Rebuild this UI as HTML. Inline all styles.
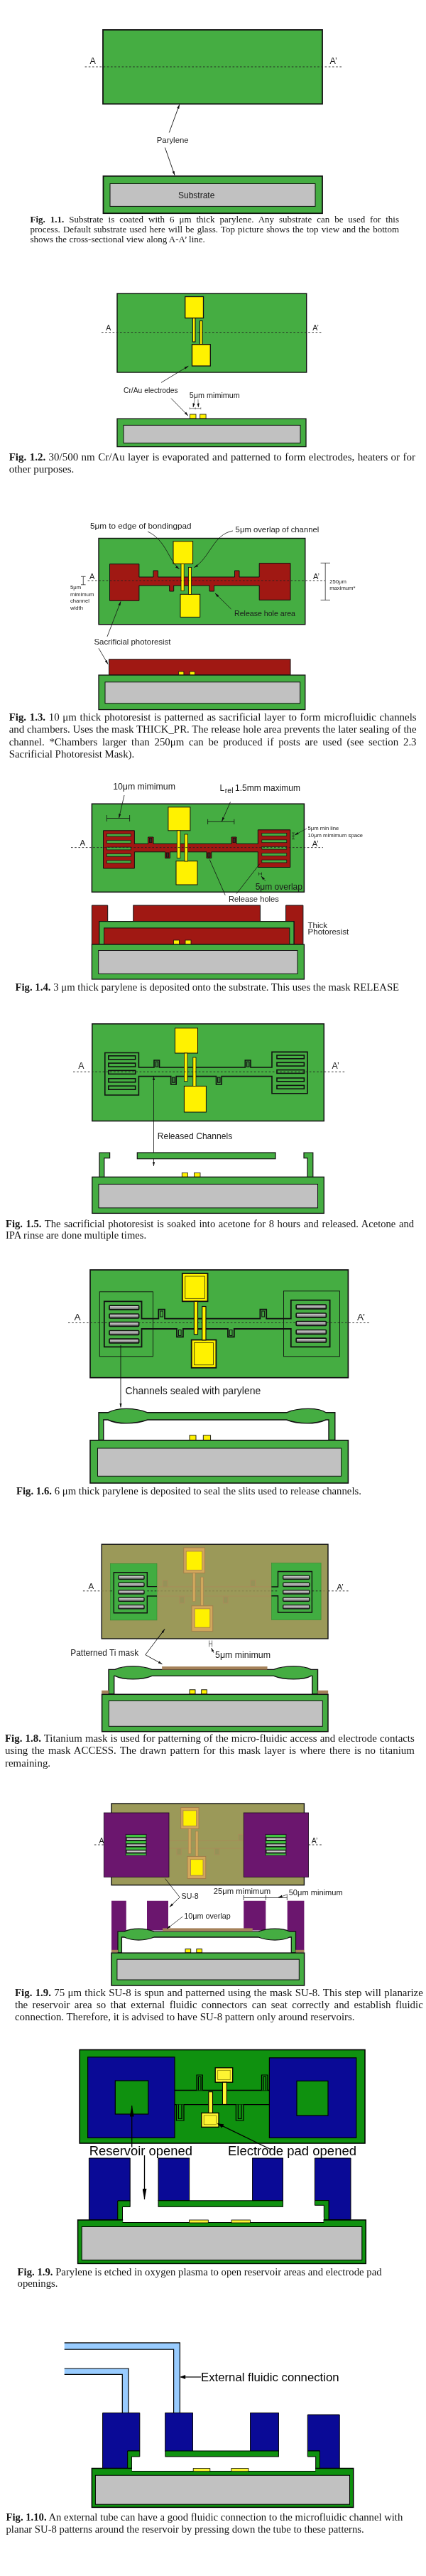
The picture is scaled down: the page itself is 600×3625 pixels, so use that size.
<!DOCTYPE html>
<html><head><meta charset="utf-8"><title>Process flow</title>
<style>
html,body{margin:0;padding:0;background:#fff}
body{width:600px;height:3625px;position:relative;overflow:hidden;font-family:"Liberation Serif",serif}
svg{position:absolute;left:0;top:0}
svg text{filter:grayscale(1)}
#caps{filter:grayscale(1);position:absolute;left:0;top:0;width:600px;height:3625px}
.cap{position:absolute;font-family:"Liberation Serif",serif;color:#141414;white-space:nowrap;text-align:justify;overflow:visible}
</style></head><body>
<svg width="600" height="3625" viewBox="0 0 600 3625">
<defs>
<marker id="ah" viewBox="0 0 10 10" refX="9.5" refY="5" markerWidth="6" markerHeight="6" markerUnits="userSpaceOnUse" orient="auto"><path d="M0 2.3L10 5L0 7.7z" fill="#111"/></marker>
<marker id="ahs" viewBox="0 0 10 10" refX="0.5" refY="5" markerWidth="6" markerHeight="6" markerUnits="userSpaceOnUse" orient="auto"><path d="M10 2.3L0 5L10 7.7z" fill="#111"/></marker>
<marker id="ahb" viewBox="0 0 10 10" refX="9" refY="5" markerWidth="13" markerHeight="7.5" markerUnits="userSpaceOnUse" orient="auto"><path d="M0 1L10 5L0 9z" fill="#000"/></marker>
<marker id="ahl" viewBox="0 0 16 6" refX="15.5" refY="3" markerWidth="16" markerHeight="6" markerUnits="userSpaceOnUse" orient="auto"><path d="M0 0L16 3L0 6z" fill="#000"/></marker>
<marker id="ahm" viewBox="0 0 9 6" refX="8.5" refY="3" markerWidth="9" markerHeight="6" markerUnits="userSpaceOnUse" orient="auto"><path d="M0 0L9 3L0 6z" fill="#000"/></marker>
<linearGradient id="met" x1="0" y1="0" x2="0" y2="1"><stop offset="0" stop-color="#d4d4d4"/><stop offset="0.4" stop-color="#b4b4b4"/><stop offset="1" stop-color="#5e5e5e"/></linearGradient>
</defs>
<rect x="145.0" y="42.0" width="309.0" height="104.3" fill="#45ad42" stroke="#111" stroke-width="1.8" />
<line x1="119.6" y1="94.0" x2="482.0" y2="94.0" stroke="#222" stroke-width="0.9" stroke-dasharray="2.6,2.6"/>
<text x="126.5" y="89.5" font-size="12.5" text-anchor="start" font-family="Liberation Sans" fill="#1a1a1a" >A</text>
<text x="464.5" y="89.5" font-size="12.5" text-anchor="start" font-family="Liberation Sans" fill="#1a1a1a" >A’</text>
<text x="243.2" y="200.8" font-size="11.4" text-anchor="middle" font-family="Liberation Sans" fill="#1a1a1a" >Parylene</text>
<line x1="238.3" y1="186.5" x2="252.7" y2="147.3" stroke="#111" stroke-width="0.9" marker-end="url(#ah)"/>
<line x1="232.4" y1="207.6" x2="246.0" y2="246.5" stroke="#111" stroke-width="0.9" marker-end="url(#ah)"/>
<rect x="145.5" y="247.8" width="308.5" height="52.4" fill="#45ad42" stroke="#111" stroke-width="1.8" />
<rect x="155.0" y="258.5" width="289.0" height="31.9" fill="#c1c1c1" stroke="#111" stroke-width="1" />
<text x="251.0" y="278.5" font-size="12" text-anchor="start" font-family="Liberation Sans" fill="#1a1a1a" >Substrate</text>
<rect x="165.0" y="413.0" width="266.7" height="111.0" fill="#45ad42" stroke="#111" stroke-width="1.4" />
<line x1="143.0" y1="467.6" x2="455.0" y2="467.6" stroke="#222" stroke-width="0.9" stroke-dasharray="2.6,2.6"/>
<rect x="271.3" y="447.0" width="3.7" height="34.0" fill="#fff200" stroke="#111" stroke-width="1.1" />
<rect x="260.7" y="417.5" width="25.8" height="30.0" fill="#fff200" stroke="#111" stroke-width="1.3" />
<rect x="281.5" y="451.5" width="3.5" height="33.5" fill="#fff200" stroke="#111" stroke-width="1.1" />
<rect x="270.5" y="484.7" width="25.8" height="30.3" fill="#fff200" stroke="#111" stroke-width="1.3" />
<text x="149.3" y="465.3" font-size="10.5" text-anchor="start" font-family="Liberation Sans" fill="#1a1a1a" >A</text>
<text x="440.3" y="465.3" font-size="10.5" text-anchor="start" font-family="Liberation Sans" fill="#1a1a1a" >A’</text>
<text x="174.0" y="552.5" font-size="10.3" text-anchor="start" font-family="Liberation Sans" fill="#1a1a1a" >Cr/Au electrodes</text>
<text x="266.8" y="560.3" font-size="10.8" text-anchor="start" font-family="Liberation Sans" fill="#1a1a1a" >5μm mimimum</text>
<line x1="227.0" y1="538.4" x2="265.3" y2="515.2" stroke="#111" stroke-width="0.8" marker-end="url(#ah)"/>
<line x1="241.0" y1="560.6" x2="265.0" y2="585.0" stroke="#111" stroke-width="0.8" marker-end="url(#ah)"/>
<line x1="267.2" y1="574.7" x2="282.8" y2="574.7" stroke="#111" stroke-width="0.5" />
<line x1="267.2" y1="573.3" x2="267.2" y2="576.1" stroke="#111" stroke-width="0.5" />
<line x1="275.1" y1="573.3" x2="275.1" y2="576.1" stroke="#111" stroke-width="0.5" />
<line x1="282.8" y1="573.3" x2="282.8" y2="576.1" stroke="#111" stroke-width="0.5" />
<line x1="274.2" y1="562.2" x2="272.0" y2="573.2" stroke="#111" stroke-width="0.5" marker-end="url(#ah)"/>
<line x1="278.9" y1="562.0" x2="279.4" y2="573.2" stroke="#111" stroke-width="0.5" marker-end="url(#ah)"/>
<rect x="267.6" y="583.0" width="8.4" height="6.2" fill="#fff200" stroke="#111" stroke-width="0.8" />
<rect x="281.7" y="583.0" width="8.4" height="6.2" fill="#fff200" stroke="#111" stroke-width="0.8" />
<rect x="165.0" y="589.2" width="266.0" height="39.4" fill="#45ad42" stroke="#111" stroke-width="1.3" />
<rect x="174.0" y="598.4" width="249.0" height="25.0" fill="#c1c1c1" stroke="#111" stroke-width="1" />
<rect x="139.0" y="757.5" width="290.8" height="121.2" fill="#45ad42" stroke="#111" stroke-width="1.4" />
<path d="M154.5 793.7H195.9V812H216V803H222.5V812H330.5V803H337V812H365.2V792.6H409V844.3H365.2V824H301.5V832H295V824H244.7V832H238.7V824H195.9V845.3H154.5Z" fill="#a01813" stroke="#111" stroke-width="1" />
<rect x="244.0" y="761.8" width="27.6" height="31.7" fill="#fff200" stroke="#111" stroke-width="1" />
<rect x="255.0" y="793.5" width="4.2" height="37.9" fill="#fff200" stroke="#111" stroke-width="0.8" />
<rect x="254.0" y="836.3" width="27.7" height="32.1" fill="#fff200" stroke="#111" stroke-width="1" />
<rect x="265.5" y="798.4" width="4.1" height="38.1" fill="#fff200" stroke="#111" stroke-width="0.8" />
<line x1="123.6" y1="817.0" x2="458.0" y2="817.0" stroke="#222" stroke-width="0.9" stroke-dasharray="2.6,2.6"/>
<text x="126.0" y="815.0" font-size="11" text-anchor="start" font-family="Liberation Sans" fill="#1a1a1a" >A</text>
<text x="441.0" y="815.3" font-size="11" text-anchor="start" font-family="Liberation Sans" fill="#1a1a1a" >A’</text>
<text x="127.0" y="744.0" font-size="11.7" text-anchor="start" font-family="Liberation Sans" fill="#1a1a1a" >5μm to edge of bondingpad</text>
<text x="331.6" y="749.0" font-size="11.3" text-anchor="start" font-family="Liberation Sans" fill="#1a1a1a" >5μm overlap of channel</text>
<path d="M208 748C234 760 238 790 252.5 800.5" fill="none" stroke="#111" stroke-width="0.8" marker-end="url(#ah)"/>
<path d="M328 747C300 752 296 785 273.5 798.5" fill="none" stroke="#111" stroke-width="0.8" marker-end="url(#ah)"/>
<text x="330.0" y="867.2" font-size="11" text-anchor="start" font-family="Liberation Sans" fill="#1a1a1a" textLength="86" lengthAdjust="spacingAndGlyphs">Release hole area</text>
<line x1="325.5" y1="857.0" x2="303.0" y2="835.0" stroke="#111" stroke-width="0.8" marker-end="url(#ah)"/>
<line x1="117.3" y1="811.3" x2="117.3" y2="822.8" stroke="#111" stroke-width="0.7" />
<line x1="114.0" y1="811.3" x2="120.6" y2="811.3" stroke="#111" stroke-width="0.7" />
<line x1="114.0" y1="822.8" x2="120.6" y2="822.8" stroke="#111" stroke-width="0.7" />
<text x="99.0" y="829.0" font-size="7.7" text-anchor="start" font-family="Liberation Sans" fill="#1a1a1a" >5μm</text>
<text x="99.0" y="838.6" font-size="7.7" text-anchor="start" font-family="Liberation Sans" fill="#1a1a1a" >mimimum</text>
<text x="99.0" y="848.2" font-size="7.7" text-anchor="start" font-family="Liberation Sans" fill="#1a1a1a" >channel</text>
<text x="99.0" y="857.8" font-size="7.7" text-anchor="start" font-family="Liberation Sans" fill="#1a1a1a" >width</text>
<line x1="458.2" y1="792.3" x2="458.2" y2="844.4" stroke="#111" stroke-width="0.7" />
<line x1="451.6" y1="792.3" x2="465.0" y2="792.3" stroke="#111" stroke-width="0.7" />
<line x1="451.6" y1="844.4" x2="465.0" y2="844.4" stroke="#111" stroke-width="0.7" />
<text x="464.2" y="821.0" font-size="7.7" text-anchor="start" font-family="Liberation Sans" fill="#1a1a1a" >250μm</text>
<text x="464.2" y="830.3" font-size="7.7" text-anchor="start" font-family="Liberation Sans" fill="#1a1a1a" >maximum*</text>
<text x="132.4" y="907.0" font-size="11.45" text-anchor="start" font-family="Liberation Sans" fill="#1a1a1a" >Sacrificial photoresist</text>
<line x1="151.0" y1="895.8" x2="170.0" y2="846.5" stroke="#111" stroke-width="0.8" marker-end="url(#ah)"/>
<line x1="139.0" y1="912.3" x2="152.0" y2="934.5" stroke="#111" stroke-width="0.8" marker-end="url(#ah)"/>
<rect x="153.5" y="927.8" width="255.5" height="22.2" fill="#a01813" stroke="#111" stroke-width="1" />
<rect x="251.7" y="945.0" width="7.2" height="5.0" fill="#fff200" stroke="#111" stroke-width="0.8" />
<rect x="267.2" y="945.0" width="7.2" height="5.0" fill="#fff200" stroke="#111" stroke-width="0.8" />
<rect x="139.0" y="950.0" width="290.8" height="48.6" fill="#45ad42" stroke="#111" stroke-width="1.3" />
<rect x="148.0" y="959.8" width="274.6" height="30.0" fill="#c1c1c1" stroke="#111" stroke-width="1" />
<rect x="129.4" y="1131.2" width="299.0" height="124.1" fill="#45ad42" stroke="#111" stroke-width="1.5" />
<path d="M145.5 1168.8H189.4V1187.4H208.5V1178H216V1187.4H326V1178H333V1187.4H363.3V1167.8H408.8V1220.5H363.3V1198.8H297.8V1207.6H291V1198.8H239.5V1207.6H232.7V1198.8H189.4V1222H145.5Z" fill="#a01813" stroke="#111" stroke-width="1" />
<rect x="150.3" y="1173.3" width="34.0" height="3.8" fill="#45ad42" stroke="#111" stroke-width="0.7" />
<rect x="368.8" y="1172.5" width="35.0" height="3.8" fill="#45ad42" stroke="#111" stroke-width="0.7" />
<rect x="150.3" y="1182.7" width="34.0" height="3.8" fill="#45ad42" stroke="#111" stroke-width="0.7" />
<rect x="368.8" y="1181.9" width="35.0" height="3.8" fill="#45ad42" stroke="#111" stroke-width="0.7" />
<rect x="150.3" y="1192.1" width="34.0" height="3.8" fill="#45ad42" stroke="#111" stroke-width="0.7" />
<rect x="368.8" y="1191.3" width="35.0" height="3.8" fill="#45ad42" stroke="#111" stroke-width="0.7" />
<rect x="150.3" y="1201.5" width="34.0" height="3.8" fill="#45ad42" stroke="#111" stroke-width="0.7" />
<rect x="368.8" y="1200.7" width="35.0" height="3.8" fill="#45ad42" stroke="#111" stroke-width="0.7" />
<rect x="150.3" y="1210.9" width="34.0" height="3.8" fill="#45ad42" stroke="#111" stroke-width="0.7" />
<rect x="368.8" y="1210.1" width="35.0" height="3.8" fill="#45ad42" stroke="#111" stroke-width="0.7" />
<rect x="210.5" y="1179.5" width="3.4" height="6.2" fill="#3a2a22" stroke="#111" stroke-width="0.8" />
<rect x="328.0" y="1179.5" width="3.4" height="6.2" fill="#3a2a22" stroke="#111" stroke-width="0.8" />
<rect x="234.3" y="1200.0" width="3.4" height="6.2" fill="#3a2a22" stroke="#111" stroke-width="0.8" />
<rect x="292.7" y="1200.0" width="3.4" height="6.2" fill="#3a2a22" stroke="#111" stroke-width="0.8" />
<rect x="236.9" y="1135.8" width="31.0" height="33.0" fill="#fff200" stroke="#111" stroke-width="1" />
<rect x="249.3" y="1168.8" width="4.6" height="38.8" fill="#fff200" stroke="#111" stroke-width="0.8" />
<rect x="248.0" y="1211.7" width="30.0" height="33.3" fill="#fff200" stroke="#111" stroke-width="1" />
<rect x="260.0" y="1174.0" width="4.3" height="38.0" fill="#fff200" stroke="#111" stroke-width="0.8" />
<line x1="100.0" y1="1192.6" x2="455.0" y2="1192.6" stroke="#222" stroke-width="0.9" stroke-dasharray="2.6,2.6"/>
<text x="112.6" y="1190.0" font-size="11.6" text-anchor="start" font-family="Liberation Sans" fill="#1a1a1a" >A</text>
<text x="439.8" y="1191.0" font-size="11" text-anchor="start" font-family="Liberation Sans" fill="#1a1a1a" >A’</text>
<text x="159.2" y="1111.2" font-size="12.3" text-anchor="start" font-family="Liberation Sans" fill="#1a1a1a" >10μm mimimum</text>
<text x="309.6" y="1112.5" font-size="12" text-anchor="start" font-family="Liberation Sans" fill="#1a1a1a" >L</text>
<text x="316.8" y="1116.0" font-size="10.5" text-anchor="start" font-family="Liberation Sans" fill="#1a1a1a" >rel</text>
<text x="331.0" y="1112.5" font-size="12" text-anchor="start" font-family="Liberation Sans" fill="#1a1a1a" >1.5mm maximum</text>
<line x1="150.4" y1="1151.5" x2="182.6" y2="1151.5" stroke="#111" stroke-width="0.8" />
<line x1="150.4" y1="1147.0" x2="150.4" y2="1156.0" stroke="#111" stroke-width="0.8" />
<line x1="182.6" y1="1147.0" x2="182.6" y2="1156.0" stroke="#111" stroke-width="0.8" />
<line x1="175.0" y1="1119.0" x2="167.6" y2="1151.0" stroke="#111" stroke-width="0.8" marker-end="url(#ah)"/>
<line x1="292.6" y1="1156.4" x2="329.8" y2="1156.4" stroke="#111" stroke-width="0.8" />
<line x1="292.6" y1="1152.8" x2="292.6" y2="1160.0" stroke="#111" stroke-width="0.8" />
<line x1="329.8" y1="1152.8" x2="329.8" y2="1160.0" stroke="#111" stroke-width="0.8" />
<line x1="324.5" y1="1128.5" x2="312.5" y2="1155.8" stroke="#111" stroke-width="0.8" marker-end="url(#ah)"/>
<line x1="413.0" y1="1172.0" x2="413.0" y2="1180.7" stroke="#111" stroke-width="0.6" />
<line x1="411.0" y1="1172.0" x2="415.0" y2="1172.0" stroke="#111" stroke-width="0.6" />
<line x1="411.0" y1="1176.4" x2="415.0" y2="1176.4" stroke="#111" stroke-width="0.6" />
<line x1="411.0" y1="1180.7" x2="415.0" y2="1180.7" stroke="#111" stroke-width="0.6" />
<line x1="432.0" y1="1166.0" x2="415.0" y2="1175.0" stroke="#111" stroke-width="0.6" marker-end="url(#ah)"/>
<text x="433.6" y="1167.6" font-size="7.7" text-anchor="start" font-family="Liberation Sans" fill="#1a1a1a" >5μm min line</text>
<text x="433.6" y="1178.2" font-size="7.7" text-anchor="start" font-family="Liberation Sans" fill="#1a1a1a" >10μm mimimum space</text>
<line x1="364.5" y1="1227.5" x2="364.5" y2="1232.0" stroke="#111" stroke-width="0.6" />
<line x1="368.5" y1="1227.5" x2="368.5" y2="1232.0" stroke="#111" stroke-width="0.6" />
<line x1="364.5" y1="1229.8" x2="368.5" y2="1229.8" stroke="#111" stroke-width="0.6" />
<line x1="374.0" y1="1240.0" x2="368.0" y2="1233.0" stroke="#111" stroke-width="0.6" marker-end="url(#ah)"/>
<text x="359.7" y="1251.5" font-size="12" text-anchor="start" font-family="Liberation Sans" fill="#1a1a1a" >5μm overlap</text>
<text x="322.0" y="1268.6" font-size="11.2" text-anchor="start" font-family="Liberation Sans" fill="#1a1a1a" >Release holes</text>
<line x1="317.2" y1="1259.7" x2="295.2" y2="1209.5" stroke="#111" stroke-width="0.8" />
<line x1="333.2" y1="1257.6" x2="366.0" y2="1215.4" stroke="#111" stroke-width="0.8" />
<path d="M129.4 1274H151.7V1296.6H139.8V1329H129.4Z" fill="#a01813" stroke="#111" stroke-width="1" />
<rect x="187.8" y="1274.0" width="178.6" height="22.6" fill="#a01813" stroke="#111" stroke-width="1" />
<path d="M402.6 1274H426.9V1329H414V1296.6H402.6Z" fill="#a01813" stroke="#111" stroke-width="1" />
<rect x="139.8" y="1296.6" width="274.2" height="32.4" fill="#45ad42" stroke="#111" stroke-width="1.2" />
<rect x="146.5" y="1305.9" width="261.3" height="23.1" fill="#a01813" stroke="#111" stroke-width="1" />
<rect x="244.6" y="1323.0" width="7.8" height="6.0" fill="#fff200" stroke="#111" stroke-width="0.8" />
<rect x="261.0" y="1323.0" width="8.0" height="6.0" fill="#fff200" stroke="#111" stroke-width="0.8" />
<rect x="129.4" y="1329.0" width="299.0" height="49.0" fill="#45ad42" stroke="#111" stroke-width="1.3" />
<rect x="138.7" y="1337.5" width="280.3" height="32.8" fill="#c1c1c1" stroke="#111" stroke-width="1" />
<text x="433.6" y="1305.5" font-size="11.5" text-anchor="start" font-family="Liberation Sans" fill="#1a1a1a" >Thick</text>
<text x="433.6" y="1315.0" font-size="11.5" text-anchor="start" font-family="Liberation Sans" fill="#1a1a1a" >Photoresist</text>
<rect x="129.8" y="1440.8" width="326.5" height="136.7" fill="#45ad42" stroke="#111" stroke-width="1.5" />
<path d="M147.8 1481.5H195.4V1502H217V1492H224.5V1502H345.3V1492H353V1502H383V1480.4H433V1538.8H383V1514.6H312.2V1526H304.5V1514.6H248.2V1526H240.7V1514.6H195.4V1541H147.8Z" fill="none" stroke="#111" stroke-width="1.6" />
<rect x="152.8" y="1485.8" width="37.9" height="5.0" fill="none" stroke="#111" stroke-width="1.6" />
<rect x="390.0" y="1485.0" width="38.4" height="4.8" fill="none" stroke="#111" stroke-width="1.6" />
<rect x="152.8" y="1496.1" width="37.9" height="5.0" fill="none" stroke="#111" stroke-width="1.6" />
<rect x="390.0" y="1495.3" width="38.4" height="4.8" fill="none" stroke="#111" stroke-width="1.6" />
<rect x="152.8" y="1506.4" width="37.9" height="5.0" fill="none" stroke="#111" stroke-width="1.6" />
<rect x="390.0" y="1505.6" width="38.4" height="4.8" fill="none" stroke="#111" stroke-width="1.6" />
<rect x="152.8" y="1517.8" width="37.9" height="5.0" fill="none" stroke="#111" stroke-width="1.6" />
<rect x="390.0" y="1517.0" width="38.4" height="4.8" fill="none" stroke="#111" stroke-width="1.6" />
<rect x="152.8" y="1528.2" width="37.9" height="5.0" fill="none" stroke="#111" stroke-width="1.6" />
<rect x="390.0" y="1527.4" width="38.4" height="4.8" fill="none" stroke="#111" stroke-width="1.6" />
<rect x="219.0" y="1494.0" width="3.6" height="7.3" fill="#3a7a3a" stroke="#111" stroke-width="1" />
<rect x="347.5" y="1494.0" width="3.6" height="7.3" fill="#3a7a3a" stroke="#111" stroke-width="1" />
<rect x="242.7" y="1516.0" width="3.6" height="7.3" fill="#3a7a3a" stroke="#111" stroke-width="1" />
<rect x="306.5" y="1516.0" width="3.6" height="7.3" fill="#3a7a3a" stroke="#111" stroke-width="1" />
<rect x="246.5" y="1446.8" width="32.0" height="35.2" fill="#fff200" stroke="#111" stroke-width="1" />
<rect x="259.4" y="1482.0" width="4.6" height="39.7" fill="#fff200" stroke="#111" stroke-width="0.8" />
<rect x="259.4" y="1528.4" width="31.0" height="36.6" fill="#fff200" stroke="#111" stroke-width="1" />
<rect x="271.8" y="1488.0" width="4.2" height="40.6" fill="#fff200" stroke="#111" stroke-width="0.8" />
<line x1="103.0" y1="1508.3" x2="486.0" y2="1508.3" stroke="#222" stroke-width="0.9" stroke-dasharray="2.6,2.6"/>
<text x="110.3" y="1504.2" font-size="12.3" text-anchor="start" font-family="Liberation Sans" fill="#1a1a1a" >A</text>
<text x="467.6" y="1504.2" font-size="12.3" text-anchor="start" font-family="Liberation Sans" fill="#1a1a1a" >A’</text>
<text x="221.7" y="1603.0" font-size="12.1" text-anchor="start" font-family="Liberation Sans" fill="#1a1a1a" >Released Channels</text>
<line x1="216.5" y1="1600.0" x2="216.5" y2="1641.0" stroke="#111" stroke-width="0.8" marker-end="url(#ah)"/>
<line x1="216.5" y1="1600.0" x2="216.5" y2="1514.5" stroke="#111" stroke-width="0.8" marker-end="url(#ah)"/>
<path d="M140 1622H154.6V1629.7H146.8V1656.5H140Z" fill="#45ad42" stroke="#111" stroke-width="1.2" />
<rect x="193.3" y="1622.0" width="194.7" height="8.7" fill="#45ad42" stroke="#111" stroke-width="1.2" />
<path d="M428 1622H440.8V1656.5H433V1629.7H428Z" fill="#45ad42" stroke="#111" stroke-width="1.2" />
<rect x="256.3" y="1650.4" width="8.3" height="6.1" fill="#fff200" stroke="#111" stroke-width="0.8" />
<rect x="273.4" y="1650.4" width="8.6" height="6.1" fill="#fff200" stroke="#111" stroke-width="0.8" />
<rect x="129.8" y="1656.3" width="326.5" height="51.1" fill="#45ad42" stroke="#111" stroke-width="1.3" />
<rect x="139.0" y="1666.4" width="308.5" height="33.4" fill="#c1c1c1" stroke="#111" stroke-width="1" />
<rect x="127.0" y="1787.0" width="363.4" height="151.7" fill="#45ad42" stroke="#111" stroke-width="1.7" />
<rect x="140.3" y="1817.8" width="75.2" height="91.0" fill="none" stroke="#111" stroke-width="0.9" />
<rect x="399.5" y="1816.8" width="79.0" height="92.0" fill="none" stroke="#111" stroke-width="0.9" />
<path d="M146.8 1831.3H199.5V1855.6H223.3V1842.6H232V1855.6H366.4V1842.6H375.2V1855.6H409.8V1829.7H464.6V1895.3H409.8V1870H329.8V1881.4H321V1870H257.9V1881.4H249V1870H199.5V1895.3H146.8Z" fill="none" stroke="#111" stroke-width="1.8" />
<line x1="96.0" y1="1861.5" x2="520.0" y2="1861.5" stroke="#222" stroke-width="0.9" stroke-dasharray="2.6,2.6"/>
<rect x="154.0" y="1837.1" width="41.6" height="5.8" fill="url(#met)" stroke="#111" stroke-width="1.7" rx="1"/>
<rect x="417.2" y="1836.1" width="42.2" height="5.8" fill="url(#met)" stroke="#111" stroke-width="1.7" rx="1"/>
<rect x="154.0" y="1849.0" width="41.6" height="5.8" fill="url(#met)" stroke="#111" stroke-width="1.7" rx="1"/>
<rect x="417.2" y="1848.0" width="42.2" height="5.8" fill="url(#met)" stroke="#111" stroke-width="1.7" rx="1"/>
<rect x="154.0" y="1860.5" width="41.6" height="5.8" fill="url(#met)" stroke="#111" stroke-width="1.7" rx="1"/>
<rect x="417.2" y="1859.5" width="42.2" height="5.8" fill="url(#met)" stroke="#111" stroke-width="1.7" rx="1"/>
<rect x="154.0" y="1872.5" width="41.6" height="5.8" fill="url(#met)" stroke="#111" stroke-width="1.7" rx="1"/>
<rect x="417.2" y="1871.5" width="42.2" height="5.8" fill="url(#met)" stroke="#111" stroke-width="1.7" rx="1"/>
<rect x="154.0" y="1884.1" width="41.6" height="5.8" fill="url(#met)" stroke="#111" stroke-width="1.7" rx="1"/>
<rect x="417.2" y="1883.1" width="42.2" height="5.8" fill="url(#met)" stroke="#111" stroke-width="1.7" rx="1"/>
<rect x="225.8" y="1845.0" width="3.6" height="8.0" fill="none" stroke="#111" stroke-width="1" />
<rect x="368.8" y="1845.0" width="3.6" height="8.0" fill="none" stroke="#111" stroke-width="1" />
<rect x="251.5" y="1871.5" width="3.6" height="8.0" fill="none" stroke="#111" stroke-width="1" />
<rect x="323.4" y="1871.5" width="3.6" height="8.0" fill="none" stroke="#111" stroke-width="1" />
<rect x="256.8" y="1792.0" width="35.7" height="39.3" fill="#fff200" stroke="#111" stroke-width="1.8" />
<rect x="260.8" y="1796.0" width="27.7" height="31.3" fill="none" stroke="#111" stroke-width="0.7" />
<rect x="273.4" y="1831.3" width="5.1" height="46.5" fill="#fff200" stroke="#111" stroke-width="1.2" />
<rect x="269.7" y="1885.5" width="34.7" height="39.3" fill="#fff200" stroke="#111" stroke-width="1.8" />
<rect x="273.7" y="1889.5" width="26.7" height="31.3" fill="none" stroke="#111" stroke-width="0.7" />
<rect x="284.7" y="1838.5" width="5.3" height="47.3" fill="#fff200" stroke="#111" stroke-width="1.2" />
<text x="104.5" y="1858.3" font-size="13.6" text-anchor="start" font-family="Liberation Sans" fill="#1a1a1a" >A</text>
<text x="503.0" y="1858.3" font-size="13.6" text-anchor="start" font-family="Liberation Sans" fill="#1a1a1a" >A’</text>
<text x="176.6" y="1961.7" font-size="14.0" text-anchor="start" font-family="Liberation Sans" fill="#1a1a1a" >Channels sealed with parylene</text>
<line x1="170.0" y1="1893.0" x2="170.0" y2="1980.5" stroke="#111" stroke-width="0.9" marker-end="url(#ah)"/>
<path d="M139 1987.8H152C165 1980.5 190 1980.5 207.8 1987.8H403.6C420 1980.5 450 1980.5 459 1987.8H471.8V2026.5H463V1998H459C445 2004.5 420 2004.5 403.6 1998H207.8C190 2004.5 165 2004.5 152 1998H145.8V2026.5H139Z" fill="#45ad42" stroke="#111" stroke-width="1.4" />
<rect x="267.0" y="2019.8" width="9.0" height="6.7" fill="#fff200" stroke="#111" stroke-width="0.9" />
<rect x="286.3" y="2019.8" width="10.3" height="6.7" fill="#fff200" stroke="#111" stroke-width="0.9" />
<rect x="127.0" y="2026.8" width="363.4" height="60.2" fill="#45ad42" stroke="#111" stroke-width="1.6" />
<rect x="137.5" y="2038.0" width="343.1" height="39.3" fill="#c1c1c1" stroke="#111" stroke-width="1" />
<rect x="143.2" y="2173.2" width="318.8" height="132.8" fill="#9b9959" stroke="#111" stroke-width="1.4" />
<line x1="221.7" y1="2232.9" x2="382.0" y2="2232.9" stroke="#a98c5a" stroke-width="1" />
<line x1="221.7" y1="2246.0" x2="382.0" y2="2246.0" stroke="#a98c5a" stroke-width="1" />
<rect x="229.5" y="2224.0" width="6.5" height="9.0" fill="#959258" stroke="#a98c5a" stroke-width="0.9" />
<rect x="353.0" y="2223.5" width="6.5" height="9.0" fill="#959258" stroke="#a98c5a" stroke-width="0.9" />
<rect x="253.0" y="2247.0" width="6.5" height="9.0" fill="#959258" stroke="#a98c5a" stroke-width="0.9" />
<rect x="314.5" y="2247.0" width="6.5" height="9.0" fill="#959258" stroke="#a98c5a" stroke-width="0.9" />
<line x1="143.2" y1="2238.8" x2="462.0" y2="2238.8" stroke="#7d7a48" stroke-width="0.8" stroke-dasharray="2.6,2.6"/>
<rect x="155.3" y="2200.3" width="65.7" height="79.6" fill="#41ad41" stroke="#2f8a2f" stroke-width="0.6" />
<rect x="382.4" y="2199.6" width="69.7" height="79.9" fill="#41ad41" stroke="#2f8a2f" stroke-width="0.6" />
<line x1="155.3" y1="2238.8" x2="221.0" y2="2238.8" stroke="#222" stroke-width="0.9" stroke-dasharray="2.6,2.6"/>
<line x1="382.4" y1="2238.8" x2="452.1" y2="2238.8" stroke="#222" stroke-width="0.9" stroke-dasharray="2.6,2.6"/>
<line x1="116.9" y1="2238.8" x2="143.2" y2="2238.8" stroke="#222" stroke-width="0.9" stroke-dasharray="2.6,2.6"/>
<line x1="462.0" y1="2238.8" x2="491.4" y2="2238.8" stroke="#222" stroke-width="0.9" stroke-dasharray="2.6,2.6"/>
<path d="M221 2232.6H207.3V2212.8H160.3V2269.7H207.3V2246H221" fill="#41ad41" stroke="#111" stroke-width="1.4" />
<path d="M382.4 2233H391.5V2211.5H439.4V2269H391.5V2245.7H382.4" fill="#41ad41" stroke="#111" stroke-width="1.4" />
<line x1="207.3" y1="2238.8" x2="221.0" y2="2238.8" stroke="#222" stroke-width="0.9" stroke-dasharray="2.6,2.6"/>
<line x1="382.4" y1="2238.8" x2="391.5" y2="2238.8" stroke="#222" stroke-width="0.9" stroke-dasharray="2.6,2.6"/>
<rect x="166.9" y="2217.1" width="36.1" height="5.2" fill="url(#met)" stroke="#111" stroke-width="1.3" rx="1"/>
<rect x="398.7" y="2217.1" width="37.1" height="5.2" fill="url(#met)" stroke="#111" stroke-width="1.3" rx="1"/>
<rect x="166.9" y="2227.4" width="36.1" height="5.2" fill="url(#met)" stroke="#111" stroke-width="1.3" rx="1"/>
<rect x="398.7" y="2227.4" width="37.1" height="5.2" fill="url(#met)" stroke="#111" stroke-width="1.3" rx="1"/>
<rect x="166.9" y="2237.8" width="36.1" height="5.2" fill="url(#met)" stroke="#111" stroke-width="1.3" rx="1"/>
<rect x="398.7" y="2237.8" width="37.1" height="5.2" fill="url(#met)" stroke="#111" stroke-width="1.3" rx="1"/>
<rect x="166.9" y="2248.1" width="36.1" height="5.2" fill="url(#met)" stroke="#111" stroke-width="1.3" rx="1"/>
<rect x="398.7" y="2248.1" width="37.1" height="5.2" fill="url(#met)" stroke="#111" stroke-width="1.3" rx="1"/>
<rect x="166.9" y="2258.7" width="36.1" height="5.2" fill="url(#met)" stroke="#111" stroke-width="1.3" rx="1"/>
<rect x="398.7" y="2258.7" width="37.1" height="5.2" fill="url(#met)" stroke="#111" stroke-width="1.3" rx="1"/>
<rect x="258.8" y="2177.9" width="29.7" height="35.7" fill="#d2a75c" stroke="#a07c4c" stroke-width="0.9" />
<rect x="262.2" y="2183.0" width="22.5" height="26.4" fill="#fff200" stroke="#a07c4c" stroke-width="0.8" />
<rect x="271.5" y="2213.6" width="3.6" height="40.0" fill="#d2a75c" stroke="#a07c4c" stroke-width="0.5" />
<rect x="282.8" y="2219.2" width="3.6" height="40.6" fill="#d2a75c" stroke="#a07c4c" stroke-width="0.5" />
<rect x="270.0" y="2259.8" width="29.7" height="35.6" fill="#d2a75c" stroke="#a07c4c" stroke-width="0.9" />
<rect x="274.2" y="2263.9" width="21.6" height="26.3" fill="#fff200" stroke="#a07c4c" stroke-width="0.8" />
<text x="124.6" y="2236.0" font-size="11.5" text-anchor="start" font-family="Liberation Sans" fill="#1a1a1a" >A</text>
<text x="474.4" y="2236.5" font-size="11.5" text-anchor="start" font-family="Liberation Sans" fill="#1a1a1a" >A’</text>
<text x="99.3" y="2330.2" font-size="11.9" text-anchor="start" font-family="Liberation Sans" fill="#1a1a1a" >Patterned Ti mask</text>
<line x1="204.7" y1="2328.7" x2="232.0" y2="2292.6" stroke="#111" stroke-width="0.9" />
<line x1="204.7" y1="2328.7" x2="228.4" y2="2341.7" stroke="#111" stroke-width="0.9" marker-end="url(#ah)"/>
<line x1="222.0" y1="2306.0" x2="232.0" y2="2292.6" stroke="#111" stroke-width="0.9" marker-end="url(#ah)"/>
<line x1="294.6" y1="2308.5" x2="294.6" y2="2317.5" stroke="#111" stroke-width="0.6" />
<line x1="298.6" y1="2308.5" x2="298.6" y2="2317.5" stroke="#111" stroke-width="0.6" />
<line x1="294.6" y1="2313.0" x2="298.6" y2="2313.0" stroke="#111" stroke-width="0.6" />
<line x1="301.0" y1="2326.0" x2="297.5" y2="2319.0" stroke="#111" stroke-width="0.6" marker-end="url(#ah)"/>
<text x="303.0" y="2333.0" font-size="12.4" text-anchor="start" font-family="Liberation Sans" fill="#1a1a1a" >5μm minimum</text>
<path d="M153 2349.4H162C174 2343.4 200 2343.4 214 2349.4H385.6C400 2343.4 428 2343.4 438 2349.4H447.5V2384H439.8V2358.4H438C428 2364.4 400 2364.4 385.6 2358.4H214C200 2364.4 174 2364.4 162 2358.4H160.7V2384H153Z" fill="#45ad42" stroke="#111" stroke-width="1.4" />
<rect x="228.3" y="2345.2" width="148.0" height="4.2" fill="#a5825a" stroke="#a5825a" stroke-width="0.3" />
<rect x="143.2" y="2379.0" width="9.8" height="4.6" fill="#a5825a" stroke="#a5825a" stroke-width="0.3" />
<rect x="447.5" y="2379.0" width="14.5" height="4.6" fill="#a5825a" stroke="#a5825a" stroke-width="0.3" />
<rect x="267.0" y="2377.8" width="8.0" height="6.2" fill="#fff200" stroke="#111" stroke-width="0.9" />
<rect x="283.7" y="2377.8" width="7.7" height="6.2" fill="#fff200" stroke="#111" stroke-width="0.9" />
<rect x="143.6" y="2384.3" width="318.4" height="52.4" fill="#45ad42" stroke="#111" stroke-width="1.5" />
<rect x="153.3" y="2393.5" width="301.0" height="35.8" fill="#c1c1c1" stroke="#111" stroke-width="1" />
<rect x="157.0" y="2538.0" width="271.4" height="114.7" fill="#9b9959" stroke="#111" stroke-width="1.4" />
<line x1="238.2" y1="2590.4" x2="343.2" y2="2590.4" stroke="#a98c5a" stroke-width="1" />
<line x1="238.2" y1="2601.1" x2="343.2" y2="2601.1" stroke="#a98c5a" stroke-width="1" />
<rect x="336.0" y="2581.5" width="6.2" height="8.9" fill="#959258" stroke="#a98c5a" stroke-width="0.9" />
<rect x="249.0" y="2601.1" width="6.2" height="8.9" fill="#959258" stroke="#a98c5a" stroke-width="0.9" />
<rect x="302.6" y="2601.1" width="6.2" height="8.9" fill="#959258" stroke="#a98c5a" stroke-width="0.9" />
<rect x="254.7" y="2543.5" width="25.3" height="30.0" fill="#d2a75c" stroke="#a07c4c" stroke-width="0.9" />
<rect x="257.9" y="2547.8" width="18.8" height="21.9" fill="#fff200" stroke="#a07c4c" stroke-width="0.8" />
<rect x="265.2" y="2573.5" width="3.8" height="35.1" fill="#d2a75c" stroke="#a07c4c" stroke-width="0.5" />
<rect x="275.5" y="2577.0" width="3.5" height="36.0" fill="#d2a75c" stroke="#a07c4c" stroke-width="0.5" />
<rect x="264.0" y="2612.4" width="25.8" height="31.1" fill="#d2a75c" stroke="#a07c4c" stroke-width="0.9" />
<rect x="268.4" y="2616.7" width="17.6" height="22.5" fill="#fff200" stroke="#a07c4c" stroke-width="0.8" />
<rect x="146.3" y="2551.0" width="91.7" height="90.4" fill="#6b166e" stroke="#1c061e" stroke-width="0.8" />
<rect x="343.2" y="2551.0" width="91.4" height="90.4" fill="#6b166e" stroke="#1c061e" stroke-width="0.8" />
<rect x="177.0" y="2581.3" width="29.2" height="29.5" fill="#161616" stroke="#3a1040" stroke-width="0.8" />
<rect x="177.6" y="2582.0" width="28.0" height="3.2" fill="#3fc13f" stroke="none" stroke-width="0" />
<rect x="178.6" y="2586.6" width="26.6" height="2.4" fill="#c4c4c4" stroke="none" stroke-width="0" />
<rect x="177.6" y="2590.8" width="28.0" height="3.2" fill="#3fc13f" stroke="none" stroke-width="0" />
<rect x="178.6" y="2595.4" width="26.6" height="2.4" fill="#c4c4c4" stroke="none" stroke-width="0" />
<rect x="177.6" y="2599.6" width="28.0" height="3.2" fill="#3fc13f" stroke="none" stroke-width="0" />
<rect x="178.6" y="2604.2" width="26.6" height="2.4" fill="#c4c4c4" stroke="none" stroke-width="0" />
<rect x="177.6" y="2608.4" width="28.0" height="2.2" fill="#3fc13f" stroke="none" stroke-width="0" />
<rect x="373.9" y="2581.3" width="29.2" height="29.5" fill="#161616" stroke="#3a1040" stroke-width="0.8" />
<rect x="374.5" y="2582.0" width="28.0" height="3.2" fill="#3fc13f" stroke="none" stroke-width="0" />
<rect x="375.5" y="2586.6" width="26.6" height="2.4" fill="#c4c4c4" stroke="none" stroke-width="0" />
<rect x="374.5" y="2590.8" width="28.0" height="3.2" fill="#3fc13f" stroke="none" stroke-width="0" />
<rect x="375.5" y="2595.4" width="26.6" height="2.4" fill="#c4c4c4" stroke="none" stroke-width="0" />
<rect x="374.5" y="2599.6" width="28.0" height="3.2" fill="#3fc13f" stroke="none" stroke-width="0" />
<rect x="375.5" y="2604.2" width="26.6" height="2.4" fill="#c4c4c4" stroke="none" stroke-width="0" />
<rect x="374.5" y="2608.4" width="28.0" height="2.2" fill="#3fc13f" stroke="none" stroke-width="0" />
<line x1="132.9" y1="2596.0" x2="146.0" y2="2596.0" stroke="#222" stroke-width="0.9" stroke-dasharray="2.6,2.6"/>
<line x1="434.6" y1="2596.0" x2="454.0" y2="2596.0" stroke="#222" stroke-width="0.9" stroke-dasharray="2.6,2.6"/>
<text x="139.5" y="2593.5" font-size="10.5" text-anchor="start" font-family="Liberation Sans" fill="#1a1a1a" >A</text>
<text x="438.8" y="2593.5" font-size="10.5" text-anchor="start" font-family="Liberation Sans" fill="#1a1a1a" >A’</text>
<text x="255.6" y="2671.5" font-size="10.6" text-anchor="start" font-family="Liberation Sans" fill="#1a1a1a" >SU-8</text>
<line x1="253.2" y1="2669.9" x2="232.5" y2="2643.5" stroke="#111" stroke-width="0.8" />
<line x1="253.2" y1="2669.9" x2="238.9" y2="2683.5" stroke="#111" stroke-width="0.8" marker-end="url(#ah)"/>
<text x="300.8" y="2664.6" font-size="11.25" text-anchor="start" font-family="Liberation Sans" fill="#1a1a1a" >25μm mimimum</text>
<text x="406.7" y="2667.4" font-size="11.1" text-anchor="start" font-family="Liberation Sans" fill="#1a1a1a" >50μm minimum</text>
<line x1="343.2" y1="2670.5" x2="404.3" y2="2670.5" stroke="#111" stroke-width="0.7" />
<line x1="343.2" y1="2667.0" x2="343.2" y2="2674.0" stroke="#111" stroke-width="0.7" />
<line x1="374.5" y1="2667.0" x2="374.5" y2="2674.0" stroke="#111" stroke-width="0.7" />
<line x1="404.3" y1="2667.0" x2="404.3" y2="2674.0" stroke="#111" stroke-width="0.7" />
<line x1="405.5" y1="2665.7" x2="392.0" y2="2670.2" stroke="#111" stroke-width="0.6" marker-end="url(#ah)"/>
<path d="M157 2674.8H177.8V2718H166V2744H157Z" fill="#6b166e" stroke="none" stroke-width="0" />
<rect x="207.0" y="2674.8" width="30.0" height="41.7" fill="#6b166e" stroke="none" stroke-width="0" />
<rect x="343.2" y="2674.8" width="31.1" height="41.7" fill="#6b166e" stroke="none" stroke-width="0" />
<path d="M404.7 2674.8H428.4V2744H416.5V2719H404.7Z" fill="#6b166e" stroke="none" stroke-width="0" />
<path d="M166 2718.2H175C186 2712.8 204 2712.8 217 2718.2H364C377 2712.8 398 2712.8 408 2718.2H416.5V2748H410.3V2726H408C398 2731.4 377 2731.4 364 2726H217C204 2731.4 186 2731.4 175 2726H171.4V2748H166Z" fill="#45ad42" stroke="#111" stroke-width="1.3" />
<rect x="229.2" y="2713.6" width="126.4" height="3.8" fill="#a5825a" stroke="#a5825a" stroke-width="0.3" />
<rect x="157.0" y="2744.0" width="9.0" height="3.6" fill="#a5825a" stroke="#a5825a" stroke-width="0.3" />
<rect x="416.5" y="2744.0" width="11.9" height="3.6" fill="#a5825a" stroke="#a5825a" stroke-width="0.3" />
<rect x="261.0" y="2742.7" width="7.7" height="5.3" fill="#fff200" stroke="#111" stroke-width="0.9" />
<rect x="276.8" y="2742.7" width="7.7" height="5.3" fill="#fff200" stroke="#111" stroke-width="0.9" />
<rect x="157.0" y="2748.2" width="271.6" height="45.8" fill="#45ad42" stroke="#111" stroke-width="1.5" />
<rect x="164.9" y="2757.2" width="256.4" height="28.8" fill="#c1c1c1" stroke="#111" stroke-width="1" />
<text x="259.2" y="2699.6" font-size="10.8" text-anchor="start" font-family="Liberation Sans" fill="#1a1a1a" >10μm overlap</text>
<line x1="257.4" y1="2697.0" x2="235.0" y2="2714.3" stroke="#111" stroke-width="0.7" marker-end="url(#ah)"/>
<rect x="112.2" y="2884.5" width="401.8" height="131.5" fill="#0f910f" stroke="#000" stroke-width="1.6" />
<rect x="123.6" y="2894.8" width="122.4" height="113.6" fill="#0a0a96" stroke="#000" stroke-width="1.2" />
<rect x="162.3" y="2928.0" width="46.5" height="47.0" fill="#0f910f" stroke="#000" stroke-width="1.2" />
<rect x="379.4" y="2895.8" width="122.4" height="112.6" fill="#0a0a96" stroke="#000" stroke-width="1.2" />
<rect x="418.0" y="2928.4" width="44.0" height="48.6" fill="#0f910f" stroke="#000" stroke-width="1.2" />
<line x1="246.0" y1="2941.5" x2="379.4" y2="2941.5" stroke="#000" stroke-width="1.3" />
<line x1="246.0" y1="2961.6" x2="379.4" y2="2961.6" stroke="#000" stroke-width="1.3" />
<path d="M277 2941.5V2920H285.4V2941.5M279.4 2941.5V2922.5H283V2941.5" fill="#0f910f" stroke="#000" stroke-width="1.2" />
<path d="M368.5 2941.5V2920H376.9V2941.5M370.9 2941.5V2922.5H374.5V2941.5" fill="#0f910f" stroke="#000" stroke-width="1.2" />
<path d="M248.4 2961.6V2984H259.0V2961.6M251.4 2961.6V2981.5H256.0V2961.6" fill="#0f910f" stroke="#000" stroke-width="1.2" />
<path d="M332.4 2961.6V2984H343.0V2961.6M335.4 2961.6V2981.5H340.0V2961.6" fill="#0f910f" stroke="#000" stroke-width="1.2" />
<rect x="303.2" y="2909.8" width="24.5" height="20.4" fill="#fdf532" stroke="#000" stroke-width="1.3" />
<rect x="306.7" y="2913.3" width="17.5" height="13.4" fill="#fdf532" stroke="#7a7400" stroke-width="0.7" />
<rect x="313.4" y="2930.2" width="6.0" height="31.2" fill="#fdf532" stroke="#000" stroke-width="1.1" />
<rect x="293.8" y="2943.7" width="5.7" height="29.9" fill="#fdf532" stroke="#000" stroke-width="1.1" />
<rect x="283.7" y="2973.4" width="24.3" height="19.9" fill="#fdf532" stroke="#000" stroke-width="1.3" />
<rect x="287.2" y="2976.9" width="17.3" height="12.9" fill="#fdf532" stroke="#7a7400" stroke-width="0.7" />
<text x="125.8" y="3032.6" font-size="17.6" text-anchor="start" font-family="Liberation Sans" fill="#000" textLength="145.2" lengthAdjust="spacingAndGlyphs">Reservoir opened</text>
<text x="321.0" y="3033.2" font-size="17.6" text-anchor="start" font-family="Liberation Sans" fill="#000" textLength="181" lengthAdjust="spacingAndGlyphs">Electrode pad opened</text>
<line x1="185.7" y1="3021.4" x2="185.7" y2="2963.0" stroke="#000" stroke-width="1.3" marker-end="url(#ahl)"/>
<line x1="382.0" y1="3025.0" x2="306.5" y2="2988.4" stroke="#000" stroke-width="1.3" marker-end="url(#ahm)"/>
<line x1="203.5" y1="3033.0" x2="203.5" y2="3095.0" stroke="#000" stroke-width="1.3" marker-end="url(#ahl)"/>
<path d="M125.4 3037H183.2V3097H165.8V3124H125.4Z" fill="#0a0a96" stroke="#000" stroke-width="1" />
<rect x="223.0" y="3037.0" width="43.6" height="59.6" fill="#0a0a96" stroke="#000" stroke-width="1" />
<rect x="355.6" y="3037.0" width="42.9" height="59.6" fill="#0a0a96" stroke="#000" stroke-width="1" />
<path d="M443.4 3037H494V3123.5H463V3096.6H443.4Z" fill="#0a0a96" stroke="#000" stroke-width="1" />
<path d="M165.8 3097H183.2V3105.5H172.5V3124H165.8Z" fill="#0f910f" stroke="#000" stroke-width="1" />
<rect x="223.0" y="3096.8" width="175.5" height="8.5" fill="#0f910f" stroke="#000" stroke-width="1" />
<path d="M443.4 3096.6H463V3124H456.3V3103.3H443.4Z" fill="#0f910f" stroke="#000" stroke-width="1" />
<rect x="109.6" y="3124.0" width="405.7" height="61.4" fill="#0f910f" stroke="#000" stroke-width="1.5" />
<rect x="115.2" y="3133.5" width="394.6" height="46.8" fill="#c1c1c1" stroke="#000" stroke-width="1" />
<rect x="173.2" y="3120.5" width="282.3" height="6.6" fill="#fff" stroke="none" stroke-width="0" />
<line x1="172.5" y1="3127.5" x2="456.3" y2="3127.5" stroke="#000" stroke-width="1" />
<rect x="266.6" y="3124.0" width="26.7" height="4.0" fill="#fdf532" stroke="#000" stroke-width="0.8" />
<rect x="326.0" y="3124.0" width="26.5" height="4.0" fill="#fdf532" stroke="#000" stroke-width="0.8" />
<path d="M90.7 3296.9H253.4V3395.5H244.6V3306.2H90.7" fill="#99ccff" stroke="#000" stroke-width="1.2" />
<path d="M90.7 3333H181V3395.5H172.3V3341.3H90.7" fill="#99ccff" stroke="#000" stroke-width="1.2" />
<text x="283.0" y="3350.7" font-size="16.2" text-anchor="start" font-family="Liberation Sans" fill="#000" textLength="194.6" lengthAdjust="spacingAndGlyphs">External fluidic connection</text>
<line x1="283.0" y1="3345.0" x2="254.4" y2="3345.0" stroke="#000" stroke-width="1.2" marker-end="url(#ahb)"/>
<path d="M144.6 3395.5H196.8V3449H179.7V3474H144.6Z" fill="#0a0a96" stroke="#000" stroke-width="1" />
<rect x="232.7" y="3395.5" width="38.7" height="53.9" fill="#0a0a96" stroke="#000" stroke-width="1" />
<rect x="352.6" y="3395.5" width="39.8" height="53.9" fill="#0a0a96" stroke="#000" stroke-width="1" />
<path d="M433.3 3398H478.2V3473.5H450.5V3449H433.3Z" fill="#0a0a96" stroke="#000" stroke-width="1" />
<path d="M179.7 3449H196.8V3457H185.4V3474H179.7Z" fill="#0f910f" stroke="#000" stroke-width="1" />
<rect x="232.9" y="3449.0" width="159.5" height="8.0" fill="#0f910f" stroke="#000" stroke-width="1" />
<path d="M433.3 3449H450.5V3475H444.7V3457H433.3Z" fill="#0f910f" stroke="#000" stroke-width="1" />
<rect x="129.4" y="3473.5" width="368.3" height="54.9" fill="#0f910f" stroke="#000" stroke-width="1.5" />
<rect x="134.4" y="3483.3" width="358.1" height="40.9" fill="#c1c1c1" stroke="#000" stroke-width="1" />
<rect x="186.0" y="3470.5" width="258.0" height="6.5" fill="#fff" stroke="none" stroke-width="0" />
<line x1="185.4" y1="3477.5" x2="444.7" y2="3477.5" stroke="#000" stroke-width="1" />
<rect x="272.2" y="3473.6" width="23.6" height="4.2" fill="#fdf532" stroke="#000" stroke-width="0.8" />
<rect x="325.8" y="3473.6" width="24.2" height="4.2" fill="#fdf532" stroke="#000" stroke-width="0.8" />
</svg>
<div id="caps">
<div class="cap" style="left:42.5px;top:302.31px;width:519.5px;font-size:13px;line-height:13.8px;height:13.8px;text-align-last:justify;"><b>Fig. 1.1.</b> Substrate is coated with 6 μm thick parylene. Any substrate can be used for this</div>
<div class="cap" style="left:42.5px;top:316.11px;width:519.5px;font-size:13px;line-height:13.8px;height:13.8px;text-align-last:justify;">process. Default substrate used here will be glass. Top picture shows the top view and the bottom</div>
<div class="cap" style="left:42.5px;top:329.91px;width:519.5px;font-size:13px;line-height:13.8px;height:13.8px;">shows the cross-sectional view along A-A’ line.</div>
<div class="cap" style="left:12.7px;top:634.74px;width:572.3px;font-size:15px;line-height:16.8px;height:16.8px;text-align-last:justify;"><b>Fig. 1.2.</b> 30/500 nm Cr/Au layer is evaporated and patterned to form electrodes, heaters or for</div>
<div class="cap" style="left:12.7px;top:651.54px;width:572.3px;font-size:15px;line-height:16.8px;height:16.8px;">other purposes.</div>
<div class="cap" style="left:12.7px;top:1001.05px;width:573.9px;font-size:14.9px;line-height:17.25px;height:17.25px;text-align-last:justify;"><b>Fig. 1.3.</b> 10 μm thick photoresist is patterned as sacrificial layer to form microfluidic channels</div>
<div class="cap" style="left:12.7px;top:1018.30px;width:573.9px;font-size:14.9px;line-height:17.25px;height:17.25px;text-align-last:justify;">and chambers. Uses the mask THICK_PR. The release hole area prevents the later sealing of the</div>
<div class="cap" style="left:12.7px;top:1035.55px;width:573.9px;font-size:14.9px;line-height:17.25px;height:17.25px;text-align-last:justify;">channel. *Chambers larger than 250μm can be produced if posts are used (see section 2.3</div>
<div class="cap" style="left:12.7px;top:1052.80px;width:573.9px;font-size:14.9px;line-height:17.25px;height:17.25px;">Sacrificial Photoresist Mask).</div>
<div class="cap" style="left:21.5px;top:1380.72px;width:542.5px;font-size:14.76px;line-height:17px;height:17px;"><b>Fig. 1.4.</b> 3 μm thick parylene is deposited onto the substrate. This uses the mask RELEASE</div>
<div class="cap" style="left:8.0px;top:1713.97px;width:575.0px;font-size:14.6px;line-height:16.4px;height:16.4px;text-align-last:justify;"><b>Fig. 1.5.</b> The sacrificial photoresist is soaked into acetone for 8 hours and released. Acetone and</div>
<div class="cap" style="left:8.0px;top:1730.37px;width:575.0px;font-size:14.6px;line-height:16.4px;height:16.4px;">IPA rinse are done multiple times.</div>
<div class="cap" style="left:23.0px;top:2089.72px;width:486.0px;font-size:14.75px;line-height:17px;height:17px;"><b>Fig. 1.6.</b> 6 μm thick parylene is deposited to seal the slits used to release channels.</div>
<div class="cap" style="left:7.0px;top:2437.92px;width:576.8px;font-size:14.9px;line-height:17.5px;height:17.5px;text-align-last:justify;"><b>Fig. 1.8.</b> Titanium mask is used for patterning of the micro-fluidic access and electrode contacts</div>
<div class="cap" style="left:7.0px;top:2455.42px;width:576.8px;font-size:14.9px;line-height:17.5px;height:17.5px;text-align-last:justify;">using the mask ACCESS. The drawn pattern for this mask layer is where there is no titanium</div>
<div class="cap" style="left:7.0px;top:2472.92px;width:576.8px;font-size:14.9px;line-height:17.5px;height:17.5px;">remaining.</div>
<div class="cap" style="left:21.0px;top:2795.57px;width:574.8px;font-size:14.9px;line-height:17.0px;height:17.0px;text-align-last:justify;"><b>Fig. 1.9.</b> 75 μm thick SU-8 is spun and patterned using the mask SU-8. This step will planarize</div>
<div class="cap" style="left:21.0px;top:2812.57px;width:574.8px;font-size:14.9px;line-height:17.0px;height:17.0px;text-align-last:justify;">the reservoir area so that external fluidic connectors can seat correctly and establish fluidic</div>
<div class="cap" style="left:21.0px;top:2829.57px;width:574.8px;font-size:14.9px;line-height:17.0px;height:17.0px;">connection. Therefore, it is advised to have SU-8 pattern only around reservoirs.</div>
<div class="cap" style="left:24.6px;top:3189.03px;width:512.9px;font-size:14.72px;line-height:16.4px;height:16.4px;"><b>Fig. 1.9.</b> Parylene is etched in oxygen plasma to open reservoir areas and electrode pad</div>
<div class="cap" style="left:24.6px;top:3205.43px;width:512.9px;font-size:14.72px;line-height:16.4px;height:16.4px;">openings.</div>
<div class="cap" style="left:8.5px;top:3533.89px;width:559.1px;font-size:14.69px;line-height:16.7px;height:16.7px;"><b>Fig. 1.10.</b> An external tube can have a good fluidic connection to the microfluidic channel with</div>
<div class="cap" style="left:8.5px;top:3550.59px;width:559.1px;font-size:14.69px;line-height:16.7px;height:16.7px;">planar SU-8 patterns around the reservoir by pressing down the tube to these patterns.</div>
</div>
</body></html>
